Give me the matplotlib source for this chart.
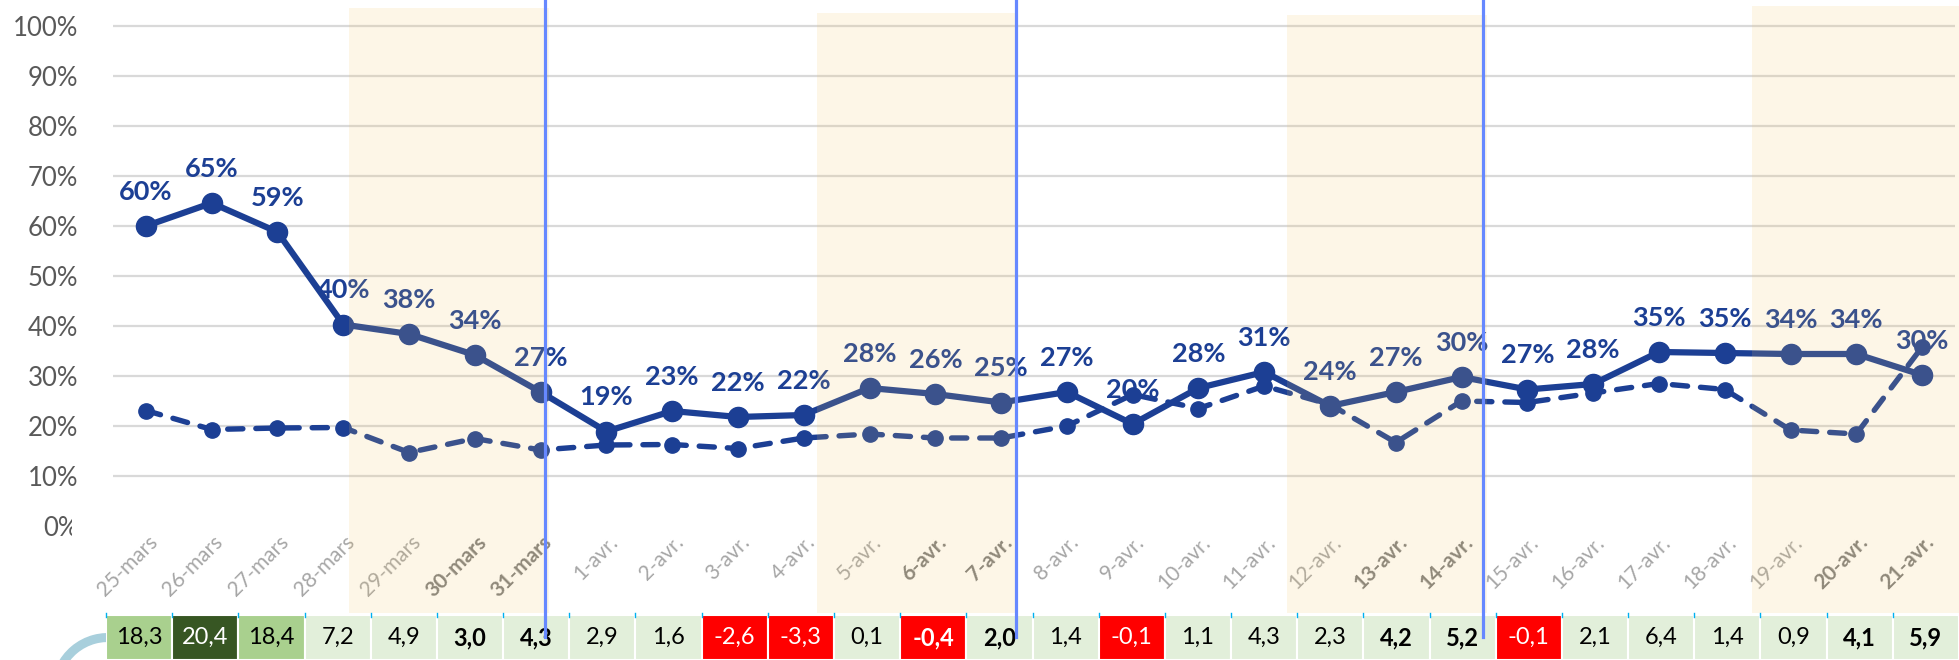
import matplotlib
matplotlib.use("Agg")
import matplotlib.pyplot as plt
from matplotlib.patches import Rectangle, Arc
from matplotlib.transforms import Bbox, TransformedBbox

plt.rcParams['font.family'] = ['Lato', 'DejaVu Sans']

# ---------------- data ----------------
days = ["25-mars", "26-mars", "27-mars", "28-mars", "29-mars", "30-mars", "31-mars",
        "1-avr.", "2-avr.", "3-avr.", "4-avr.", "5-avr.", "6-avr.", "7-avr.",
        "8-avr.", "9-avr.", "10-avr.", "11-avr.", "12-avr.", "13-avr.", "14-avr.",
        "15-avr.", "16-avr.", "17-avr.", "18-avr.", "19-avr.", "20-avr.", "21-avr."]
bold_days = ["30-mars", "31-mars", "6-avr.", "7-avr.", "13-avr.", "14-avr.", "20-avr.", "21-avr."]

solid_pct = [60.0, 64.6, 58.8, 40.3, 38.4, 34.2, 26.8, 18.9, 23.0, 21.8, 22.2, 27.6, 26.4, 24.7,
             26.8, 20.4, 27.6, 30.8, 24.0, 26.8, 29.8, 27.3, 28.4, 34.8, 34.6, 34.4, 34.4, 30.2]
dashed_pct = [23.1, 19.3, 19.6, 19.7, 14.7, 17.5, 15.2, 16.2, 16.3, 15.5, 17.6, 18.4, 17.6, 17.6,
              20.0, 26.3, 23.5, 28.0, 24.3, 16.7, 25.0, 24.7, 26.6, 28.5, 27.3, 19.2, 18.4, 35.8]

table_values = [18.3, 20.4, 18.4, 7.2, 4.9, 3.0, 4.3, 2.9, 1.6, -2.6, -3.3, 0.1, -0.4, 2.0,
                1.4, -0.1, 1.1, 4.3, 2.3, 4.2, 5.2, -0.1, 2.1, 6.4, 1.4, 0.9, 4.1, 5.9]

# weekend highlight bands (start, end in category units, top in axis units)
band_start = [3.08, 10.2, 17.35, 24.42]
band_end = [6.12, 13.24, 20.38, 27.6]
band_top = [1.036, 1.027, 1.022, 1.04]
# vertical separators (category units)
sep_x = [6.06, 13.22, 20.33]

yticks_pct = [0, 10, 20, 30, 40, 50, 60, 70, 80, 90, 100]

# ---------------- style ----------------
W, H = 1959, 660
LINE = '#1c3f94'
fig = plt.figure(figsize=(W / 100, H / 100), dpi=100)
fig.patch.set_facecolor('white')

# decorative overlay (curved arrow tail bottom-left)
oax = fig.add_axes([0, 0, 1, 1], zorder=0)
oax.set_xlim(0, W)
oax.set_ylim(H, 0)
oax.axis('off')
oax.add_patch(Arc((108, 690), 105, 105, theta1=180, theta2=280, lw=6.5, color='#a8cfdc'))

# ---------------- table ----------------
tax = fig.add_axes([106 / W, 0, (W - 106) / W, 45 / H], zorder=1)
tax.set_xlim(0, len(table_values))
tax.set_ylim(0, 1)
tax.axis('off')


def cell_style(v):
    if v < 0:
        return '#ff0000', 'white'
    if v >= 20:
        return '#375623', 'white'
    if v >= 15:
        return '#a9d08e', 'black'
    return '#e2efda', 'black'


for i, v in enumerate(table_values):
    fc, tc = cell_style(v)
    tax.add_patch(Rectangle((i, 0), 1, 1, facecolor=fc, edgecolor='white', lw=1.5))
    txt = f"{v:.1f}".replace('.', ',')
    tax.text(i + 0.5, 0.5, txt, ha='center', va='center', fontsize=17, color=tc,
             fontweight='bold' if days[i] in bold_days else 'normal')
    tax.plot([i, i], [0.95, 1.04], color='#00b0f0', lw=1, clip_on=False)

# ---------------- main chart ----------------
ax = fig.add_axes([113 / W, 134 / H, (1955 - 113) / W, 525 / H], zorder=2)
ax.patch.set_visible(False)
ax.set_xlim(-0.5, len(days) - 0.5)
ax.set_ylim(0, 1.05)
for s in ax.spines.values():
    s.set_visible(False)

x = list(range(len(days)))
solid = [v / 100 for v in solid_pct]
dashed = [v / 100 for v in dashed_pct]

ax.hlines([t / 100 for t in yticks_pct[1:]], -0.5, len(days) - 0.5, color='#d9d9d9', lw=1.6, zorder=1)

ax.set_yticks([t / 100 for t in yticks_pct])
ax.set_yticklabels([f"{t}%" for t in yticks_pct], fontsize=18.5, color='#595959')
ax.tick_params(axis='y', length=0, pad=25)

# category labels, rotated 45 degrees, right end at the category centre
ax.set_xticks([])
for xi, d in zip(x, days):
    b = d in bold_days
    ax.text(xi + 0.02, -0.012, d, rotation=45, rotation_mode='anchor', ha='right', va='top',
            fontsize=15, fontweight='bold' if b else 'normal',
            color='#7f7f7f' if b else '#a6a6a6', clip_on=False, zorder=2)

# clip the "0%" label like the reference
for lab in ax.get_yticklabels():
    if lab.get_text() == '0%':
        lab.set_clip_box(TransformedBbox(Bbox([[0, 0], [72 / W, 1]]), fig.transFigure))
        lab.set_clip_on(True)

ax.plot(x, solid, color=LINE, lw=4.5, marker='o', ms=14.5, zorder=3, solid_joinstyle='round')
for xi, v in zip(x, solid):
    ax.annotate(f"{round(v * 100)}%", (xi, v), xytext=(0, 24.5), textcoords='offset points',
                ha='center', va='center', fontsize=19.5, fontweight='bold', color=LINE, zorder=3.5)

ax.plot(x, dashed, color=LINE, lw=3.9, marker='o', ms=11, zorder=4,
        dashes=(2.8, 2.4), dash_capstyle='round')

for s0, s1, top in zip(band_start, band_end, band_top):
    ax.add_patch(Rectangle((s0, -0.174), s1 - s0, top + 0.174, facecolor='#f2c462', alpha=0.15,
                           edgecolor='none', zorder=5, clip_on=False))

for sx in sep_x:
    ax.plot([sx, sx], [-0.222, 1.06], color='#6688ff', lw=2.3, zorder=6, clip_on=False)

fig.savefig('out.png', dpi=100)
